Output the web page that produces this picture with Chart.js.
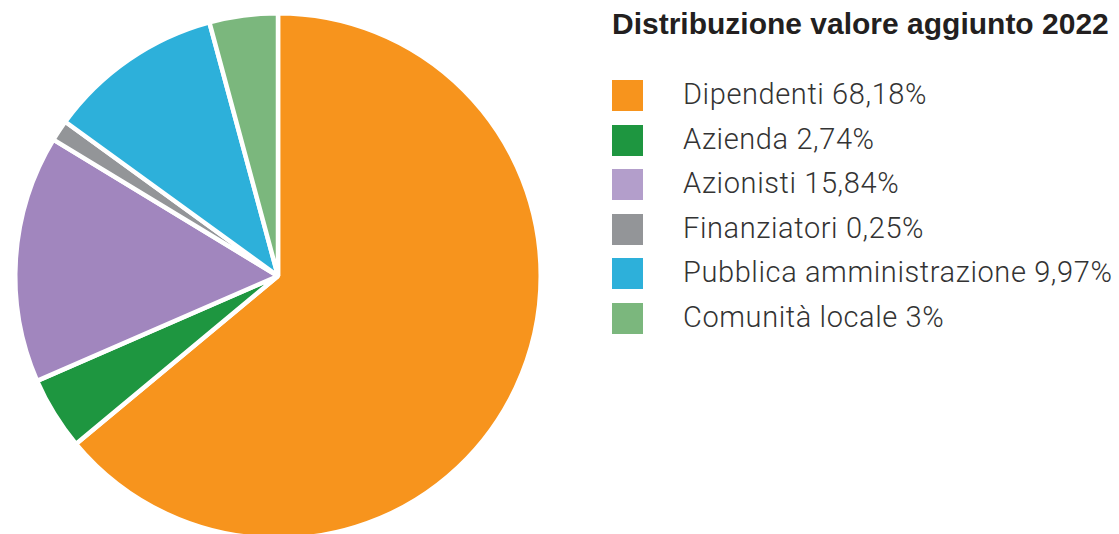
<!DOCTYPE html>
<html lang="it">
<head>
<meta charset="utf-8">
<title>Distribuzione valore aggiunto 2022</title>
<script src="https://cdn.jsdelivr.net/npm/chart.js@4/dist/chart.umd.min.js"></script>
<style>
  html, body { margin: 0; padding: 0; background: #fff; overflow: hidden; }
  body { width: 1119px; height: 534px; position: relative; }
  #pie-wrap { position: absolute; left: 0; top: 0; width: 556px; height: 550px; }
  #legend { position: absolute; left: 612px; top: 0; }
  #legend h2 {
    margin: 0; position: absolute; top: 7px; left: 0; white-space: nowrap;
    font-family: "Liberation Sans Narrow", "Liberation Sans", sans-serif;
    font-weight: 700; font-size: 30px; color: #231f20;
  }
  #legend ul { list-style: none; margin: 0; padding: 0; position: absolute; top: 80px; left: 0; }
  #legend li { position: relative; height: 44.6px; white-space: nowrap; }
  #legend .sw { position: absolute; left: 0; top: 0; width: 31px; height: 31px; }
  #legend .tx {
    position: absolute; left: 71px; top: -4px; line-height: 36px;
    font-family: Roboto, "Noto Sans", sans-serif; font-weight: 300;
    font-size: 29px; letter-spacing: 0.6px; color: #333;
  }
</style>
</head>
<body>
<div id="pie-wrap"><canvas id="pie"></canvas></div>
<div id="legend"><h2 id="legend-title"></h2><ul id="legend-list"></ul></div>
<script>
const chartTitle = 'Distribuzione valore aggiunto 2022';
const categories = ['Dipendenti', 'Azienda', 'Azionisti', 'Finanziatori', 'Pubblica amministrazione', 'Comunità locale'];
const legendPercents = ['68,18%', '2,74%', '15,84%', '0,25%', '9,97%', '3%'];
// slice sizes as drawn in the picture (they do not follow the printed percentages exactly)
const sliceValues = [63.9, 4.5, 15.2, 1.3, 10.8, 4.2];
const sliceColors = ['#f7941d', '#1e9640', '#a186be', '#939598', '#2db0da', '#7bb77d'];
const swatchColors = ['#f7941d', '#1e9640', '#b39ecb', '#939598', '#2db0da', '#7bb77d'];

document.getElementById('legend-title').textContent = chartTitle;
const list = document.getElementById('legend-list');
categories.forEach((name, i) => {
  const li = document.createElement('li');
  const sw = document.createElement('span');
  sw.className = 'sw';
  sw.style.background = swatchColors[i];
  const tx = document.createElement('span');
  tx.className = 'tx';
  tx.textContent = name + ' ' + legendPercents[i];
  li.appendChild(sw);
  li.appendChild(tx);
  list.appendChild(li);
});

const ctx = document.getElementById('pie').getContext('2d');
new Chart(ctx, {
  type: 'pie',
  data: {
    labels: categories,
    datasets: [{
      data: sliceValues,
      backgroundColor: sliceColors,
      borderColor: '#ffffff',
      borderWidth: 4.5
    }]
  },
  options: {
    responsive: true,
    maintainAspectRatio: false,
    animation: false,
    layout: { padding: { top: 11, bottom: 9, left: 0, right: 0 } },
    plugins: {
      legend: { display: false },
      tooltip: { enabled: false }
    }
  }
});
</script>
</body>
</html>
